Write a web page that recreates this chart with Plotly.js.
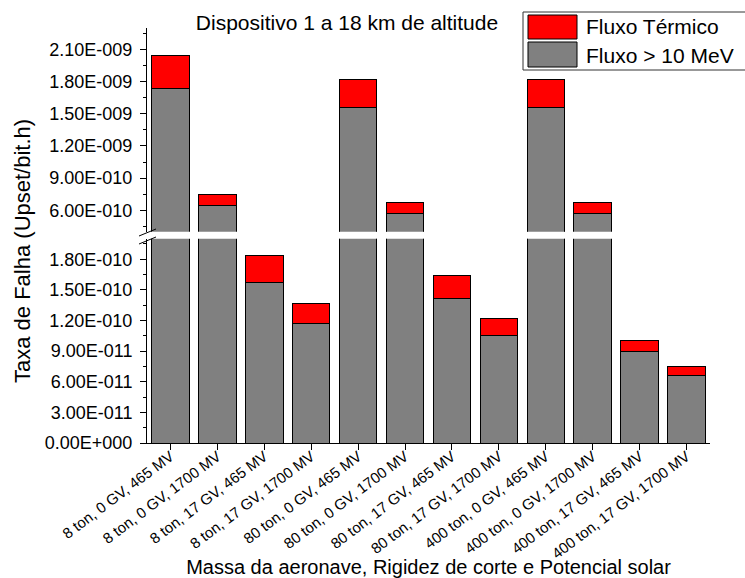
<!DOCTYPE html>
<html>
<head>
<meta charset="utf-8">
<script src="https://cdn.plot.ly/plotly-3.0.1.min.js"></script>
<style>html,body{margin:0;padding:0;background:#fff;}#chart{width:745px;height:578px;}</style>
</head>
<body>
<div id="chart"></div>
<script>
var categories = ["8 ton, 0 GV, 465 MV", "8 ton, 0 GV, 1700 MV", "8 ton, 17 GV, 465 MV", "8 ton, 17 GV, 1700 MV",
  "80 ton, 0 GV, 465 MV", "80 ton, 0 GV, 1700 MV", "80 ton, 17 GV, 465 MV", "80 ton, 17 GV, 1700 MV",
  "400 ton, 0 GV, 465 MV", "400 ton, 0 GV, 1700 MV", "400 ton, 17 GV, 465 MV", "400 ton, 17 GV, 1700 MV"];
var fluxoRapido = [1.739e-9, 6.41e-10, 1.573e-10, 1.167e-10, 1.563e-9, 5.72e-10, 1.414e-10, 1.054e-10, 1.563e-9, 5.72e-10, 8.94e-11, 6.64e-11];
var fluxoTermico = [3.06e-10, 1.07e-10, 2.63e-11, 1.99e-11, 2.57e-10, 9.7e-11, 2.24e-11, 1.62e-11, 2.57e-10, 9.7e-11, 1.11e-11, 8.1e-12];
var seriesNames = ["Fluxo Térmico", "Fluxo > 10 MeV"];
var lowTickVals = [0, 3e-11, 6e-11, 9e-11, 1.2e-10, 1.5e-10, 1.8e-10];
var lowTickText = ["0.00E+000", "3.00E-011", "6.00E-011", "9.00E-011", "1.20E-010", "1.50E-010", "1.80E-010"];
var highTickVals = [6e-10, 9e-10, 1.2e-9, 1.5e-9, 1.8e-9, 2.1e-9];
var highTickText = ["6.00E-010", "9.00E-010", "1.20E-009", "1.50E-009", "1.80E-009", "2.10E-009"];

var FONT = "Liberation Sans, Arial, sans-serif";
var GRAY = "#808080", RED = "#FF0000";
function bar(y, color, name, yaxis) {
  return {type: "bar", x: categories, y: y, name: name, xaxis: "x", yaxis: yaxis,
    marker: {color: color, line: {color: "#000", width: 1}}, showlegend: false, hoverinfo: "x+y+name"};
}
var data = [
  bar(fluxoRapido, GRAY, seriesNames[1], "y"),
  bar(fluxoTermico, RED, seriesNames[0], "y"),
  bar(fluxoRapido, GRAY, seriesNames[1], "y2"),
  bar(fluxoTermico, RED, seriesNames[0], "y2")
];

function px2x(p) { return (p - 147) / 563; }
function px2y(p) { return (443 - p) / 415; }

var yCommon = {
  showline: true, linecolor: "#000", linewidth: 1, showgrid: false, zeroline: false,
  ticks: "outside", ticklen: 6, tickcolor: "#000", tickmode: "array", ticklabelstandoff: 4,
  tickfont: {family: FONT, size: 18, color: "#000"}, fixedrange: true
};
var layout = {
  width: 745, height: 578,
  margin: {l: 147, r: 35, t: 28, b: 135},
  paper_bgcolor: "#fff", plot_bgcolor: "#fff",
  barmode: "stack", bargap: 0.2,
  font: {family: FONT, color: "#000"},
  showlegend: false,
  title: {text: "Dispositivo 1 a 18 km de altitude", font: {family: FONT, size: 21, color: "#000"},
    xref: "container", x: 347 / 745, xanchor: "center", yref: "container", y: 1 - 23 / 578, yanchor: "middle"},
  xaxis: {
    type: "category", range: [-0.5, 11.5], showline: true, linecolor: "#000", linewidth: 1,
    ticks: "outside", ticklen: 6, tickcolor: "#000", tickangle: -37, showgrid: false, ticklabelstandoff: -8,
    tickfont: {family: FONT, size: 15, color: "#000"}, anchor: "y", fixedrange: true,
    title: {text: "Massa da aeronave, Rigidez de corte e Potencial solar", font: {family: FONT, size: 20, color: "#000"}, standoff: 10}
  },
  yaxis: Object.assign({}, yCommon, {
    domain: [0, 0.492], range: [0, 2.0e-10], tickvals: lowTickVals, ticktext: lowTickText, anchor: "x",
    minor: {tick0: 0, dtick: 1.5e-11, ticklen: 3, ticks: "outside", tickcolor: "#000"}
  }),
  yaxis2: Object.assign({}, yCommon, {
    domain: [0.509, 1], range: [4.0e-10, 2.3e-9], tickvals: highTickVals, ticktext: highTickText, anchor: "x",
    minor: {tick0: 0, dtick: 1.5e-10, ticklen: 3, ticks: "outside", tickcolor: "#000"}
  }),
  shapes: [
    {type: "line", xref: "paper", yref: "paper", x0: px2x(139), x1: px2x(156), y0: px2y(236), y1: px2y(229), line: {color: "#000", width: 1}},
    {type: "line", xref: "paper", yref: "paper", x0: px2x(139), x1: px2x(156), y0: px2y(244), y1: px2y(237), line: {color: "#000", width: 1}},
    {type: "rect", xref: "paper", yref: "paper", x0: px2x(523), x1: px2x(770), y0: px2y(70), y1: px2y(12), fillcolor: "#fff", line: {color: "#333", width: 1}},
    {type: "rect", xref: "paper", yref: "paper", x0: px2x(528), x1: px2x(577), y0: px2y(39), y1: px2y(15), fillcolor: RED, line: {color: "#000", width: 1}},
    {type: "rect", xref: "paper", yref: "paper", x0: px2x(528), x1: px2x(577), y0: px2y(67), y1: px2y(42), fillcolor: GRAY, line: {color: "#000", width: 1}}
  ],
  annotations: [
    {text: "Taxa de Falha (Upset/bit.h)", xref: "paper", yref: "paper", x: px2x(23), y: px2y(251),
      textangle: -90, showarrow: false, xanchor: "center", yanchor: "middle", font: {family: FONT, size: 22, color: "#000"}},
    {text: seriesNames[0], xref: "paper", yref: "paper", x: px2x(584), y: px2y(27), xanchor: "left", yanchor: "middle",
      showarrow: false, font: {family: FONT, size: 21, color: "#000"}},
    {text: seriesNames[1], xref: "paper", yref: "paper", x: px2x(584), y: px2y(55), xanchor: "left", yanchor: "middle",
      showarrow: false, font: {family: FONT, size: 21, color: "#000"}}
  ]
};
Plotly.newPlot("chart", data, layout, {displayModeBar: false, staticPlot: true});
</script>
</body>
</html>
